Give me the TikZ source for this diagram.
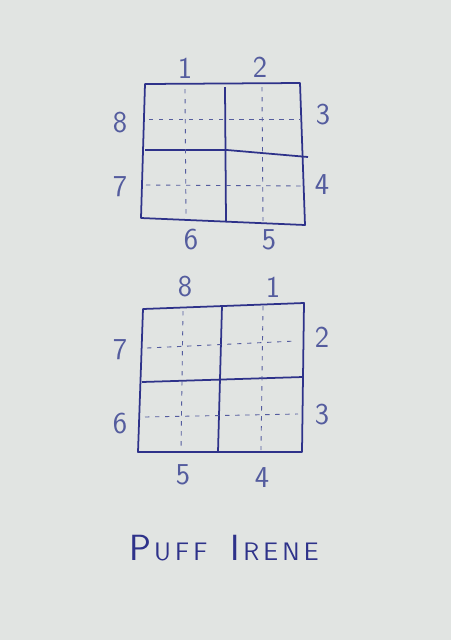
\documentclass[tikz,border=0pt]{standalone}
\usetikzlibrary{calc}
\definecolor{paper}{RGB}{225,228,226}
\definecolor{ink}{RGB}{46,50,138}
\definecolor{pale}{RGB}{84,92,158}
\tikzset{frame/.style={ink,line width=1pt,line join=round},
  fold/.style={pale,line width=.5pt,dash pattern=on 2.5pt off 3.2pt},
  num/.style={pale,font=\sffamily\LARGE}}

\begin{document}
\begin{tikzpicture}[x=0.02cm,y=-0.02cm]
\fill[paper] (0,0) rectangle (451,640);
% upper square
\draw[frame]
  (145,84) coordinate (A) --
  (300,83) coordinate (B) --
  (305,225) coordinate (C) --
  (141,218) coordinate (D) -- cycle;
\draw[frame] (145,150) coordinate (E) -- (227,150) -- (308,157) coordinate (F);
\draw[frame] (225,87) coordinate (G) -- (226,221) coordinate (H);
\draw[fold] (185,89) -- (186,217);
\draw[fold] (262,87) -- (263,221);
\draw[fold] (149,119) -- (300,119);
\draw[fold] (146,185) -- (302,186);
% lower square
\draw[frame]
  (143,309) coordinate (P) --
  (304,303) coordinate (Q) --
  (302,452) coordinate (R) --
  (138,452) coordinate (S) -- cycle;
\draw[frame] (142,382) coordinate (T) -- (303,377) coordinate (U);
\draw[frame] (222,306) coordinate (V) -- (218,452) coordinate (W);
\draw[fold] (183,311) -- (181,450);
\draw[fold] (263,306) -- (261,450);
\draw[fold] (147,348) -- (296,341);
\draw[fold] (145,417) -- (298,414);
\foreach \n/\x/\y in {1/185/68,2/260/67,3/323/115,4/322/185,5/269/240,6/191/240,7/120/187,8/120/123}
  \node[num] (up\n) at (\x,\y) {\n};
\foreach \n/\x/\y in {8/185/287,1/273/287,2/322/337,3/322/415,4/262/478,5/183/475,6/120/424,7/120/350}
  \node[num] (lo\n) at (\x,\y) {\n};
\node[ink,font=\sffamily] (title) at (224,548)
  {{\huge P}\,{\Large U\,F\,F}\quad\ {\huge I}\,{\Large R\,E\,N\,E}};
\end{tikzpicture}
\end{document}
